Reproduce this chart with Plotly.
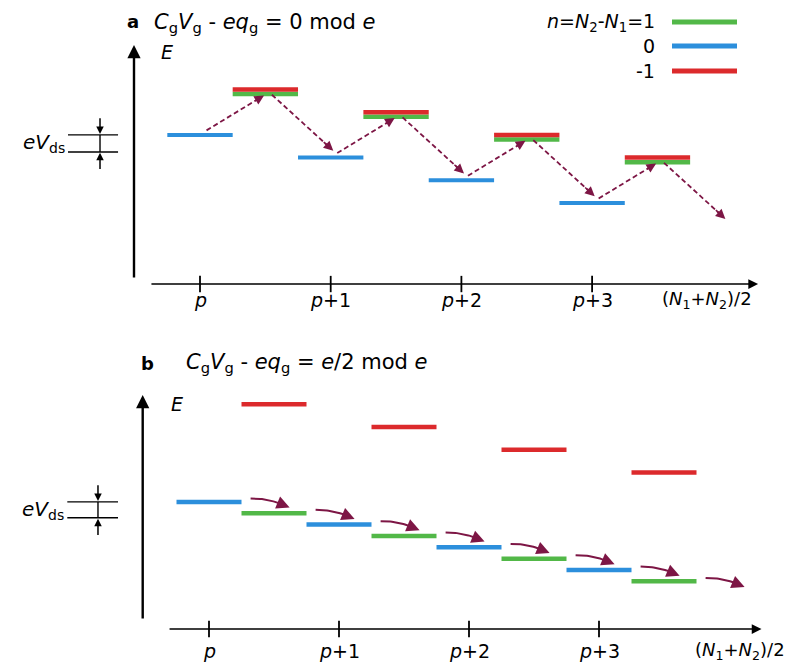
import numpy as np
import plotly.graph_objects as go

# ---------------- data ----------------
tick_pos = [0, 1, 2, 3]
tick_text = ["<i>p</i>", "<i>p</i>+1", "<i>p</i>+2", "<i>p</i>+3"]
axis_label = "(<i>N</i><sub>1</sub>+<i>N</i><sub>2</sub>)/2"

# panel a  (level centre in (N1+N2)/2 units, energy in arbitrary units)
a_blue_N = [0, 1, 2, 3]
a_blue_E = [3.0, 2.0, 1.0, 0.0]
a_red_N = [0.5, 1.5, 2.5, 3.5]
a_red_E = [5.0, 4.0, 3.0, 2.0]
a_green_N = [0.5, 1.5, 2.5, 3.5]
a_green_E = [4.8, 3.8, 2.8, 1.8]
a_path_N = [0, 0.5, 1, 1.5, 2, 2.5, 3, 3.5, 4]
a_path_E = [3.0, 4.8, 2.0, 3.8, 1.0, 2.8, 0.0, 1.8, -1.0]

# panel b
b_blue_N = [0, 1, 2, 3]
b_blue_E = [3.0, 2.0, 1.0, 0.0]
b_green_N = [0.5, 1.5, 2.5, 3.5]
b_green_E = [2.5, 1.5, 0.5, -0.5]
b_red_N = [0.5, 1.5, 2.5, 3.5]
b_red_E = [7.3, 6.3, 5.3, 4.3]
b_path_N = [0, 0.5, 1, 1.5, 2, 2.5, 3, 3.5, 4]
b_path_E = [3.0, 2.5, 2.0, 1.5, 1.0, 0.5, 0.0, -0.5, -1.0]

evds_top = 3.0
evds_gap_a = 0.75
evds_gap_b = 0.70

legend_labels = ["<i>n</i>=<i>N</i><sub>2</sub>-<i>N</i><sub>1</sub>=1", "0", "-1"]

# ---------------- style / layout ----------------
W, H = 808, 664          # window
OFF = 8                  # page body margin
FW, FH = W - OFF, H - OFF
GREEN, BLUE, RED = "#52b848", "#2c8fdc", "#dc2a2c"
ARROW = "#7d1645"
FONT = "DejaVu Sans, Liberation Sans, Arial"
UE = 22.7                      # px per energy unit
UXA, X0A, Y0A = 130.7, 200, 203
UXB, X0B, Y0B = 130.0, 209, 570
DA = (8, 330)
DB = (334, 664)


def px(x):
    return (x - OFF) / FW


def py(y):
    return 1 - (y - OFF) / FH


fig = go.Figure()


def levels(Ns, Es, color, xa, ya, width=4.5, hw=0.25):
    xs, ys = [], []
    for n, e in zip(Ns, Es):
        xs += [n - hw, n + hw, None]
        ys += [e, e, None]
    fig.add_trace(go.Scatter(x=xs, y=ys, mode="lines", xaxis=xa, yaxis=ya,
                             line=dict(color=color, width=width),
                             hoverinfo="skip", showlegend=False))


def arrow(x, y, ax, ay, xr, yr, color, width, head=2, size=1.0):
    fig.add_annotation(x=x, y=y, ax=ax, ay=ay, xref=xr, yref=yr, axref=xr, ayref=yr,
                       text="", showarrow=True, arrowhead=head, arrowsize=size,
                       arrowwidth=width, arrowcolor=color, standoff=0, startstandoff=0)


def label(x, y, text, xr, yr, size=18, xanchor="center", yanchor="middle"):
    fig.add_annotation(x=x, y=y, xref=xr, yref=yr, text=text, showarrow=False,
                       xanchor=xanchor, yanchor=yanchor,
                       font=dict(size=size, family=FONT, color="black"))


# ---- panel a levels ----
levels(a_green_N, a_green_E, GREEN, "x", "y")
levels(a_red_N, a_red_E, RED, "x", "y")
levels(a_blue_N, a_blue_E, BLUE, "x", "y", width=4)

# dashed hops
dx, dy = [], []
for i in range(len(a_path_N) - 1):
    n0, e0, n1, e1 = a_path_N[i], a_path_E[i], a_path_N[i + 1], a_path_E[i + 1]
    if e1 > e0:
        s = (n0 + 0.05, e0 + 0.2)
        t = (n1 - 0.01, e1 - 0.06)
    else:
        s = (n0 + 0.05, e0 - 0.03)
        t = (n1 + 0.02, e1 + 0.3)
    dx += [s[0], s[0] + 0.9 * (t[0] - s[0]), None]
    dy += [s[1], s[1] + 0.9 * (t[1] - s[1]), None]
    arrow(t[0], t[1], s[0] + 0.82 * (t[0] - s[0]), s[1] + 0.82 * (t[1] - s[1]),
          "x", "y", ARROW, 1.6, head=2, size=1.2)
fig.add_trace(go.Scatter(x=dx, y=dy, mode="lines", xaxis="x", yaxis="y",
                         line=dict(color=ARROW, width=1.8, dash="5px,3px"),
                         hoverinfo="skip", showlegend=False))

# ---- panel b levels ----
levels(b_red_N, b_red_E, RED, "x2", "y2")
levels(b_green_N, b_green_E, GREEN, "x2", "y2")
levels(b_blue_N, b_blue_E, BLUE, "x2", "y2")

cx, cy = [], []
tt = np.linspace(0, 1, 25)
for i in range(len(b_path_N) - 1):
    n0, e0, n1, e1 = b_path_N[i], b_path_E[i], b_path_N[i + 1], b_path_E[i + 1]
    s = np.array([n0 + 0.32, e0 + 0.15])
    t = np.array([n1 + 0.12, e1 + 0.25])
    c = np.array([s[0] + 0.5 * (t[0] - s[0]), s[1] + 0.02])
    pts = ((1 - tt) ** 2)[:, None] * s + (2 * (1 - tt) * tt)[:, None] * c + (tt ** 2)[:, None] * t
    keep = pts[tt <= 0.85]
    cx += list(keep[:, 0]) + [None]
    cy += list(keep[:, 1]) + [None]
    p7 = pts[np.argmin(abs(tt - 0.7))]
    arrow(t[0], t[1], p7[0], p7[1], "x2", "y2", ARROW, 2.0, head=2, size=1.3)
fig.add_trace(go.Scatter(x=cx, y=cy, mode="lines", xaxis="x2", yaxis="y2",
                         line=dict(color=ARROW, width=2.0),
                         hoverinfo="skip", showlegend=False))

# ---- axes drawn as arrows ----
# panel a
ha = -3.57
arrow(4.27, ha, -0.383, ha, "x", "y", "black", 1.5, head=2, size=1.3)
arrow(-0.505, 6.96, -0.505, -3.35, "x", "y", "black", 2.4, head=2, size=1.1)
for tp, tx in zip(tick_pos, tick_text):
    fig.add_shape(type="line", x0=tp, x1=tp, y0=ha - 0.36, y1=ha + 0.36, xref="x", yref="y",
                  line=dict(color="black", width=1.8))
    label(tp, ha - 0.72, tx, "x", "y", size=19)
label(3.52, ha - 0.72, axis_label, "x", "y", size=18, xanchor="left")
label(-0.25, 6.65, "<i>E</i>", "x", "y", size=19)

# panel b
hb = -2.6
arrow(4.25, hb, -0.315, hb, "x2", "y2", "black", 1.5, head=2, size=1.3)
arrow(-0.51, 7.71, -0.51, -2.2, "x2", "y2", "black", 2.4, head=2, size=1.1)
for tp, tx in zip(tick_pos, tick_text):
    fig.add_shape(type="line", x0=tp, x1=tp, y0=hb - 0.36, y1=hb + 0.36, xref="x2", yref="y2",
                  line=dict(color="black", width=1.8))
    label(tp, hb - 0.95, tx, "x2", "y2", size=19)
label(3.72, hb - 0.95, axis_label, "x2", "y2", size=18, xanchor="left")
label(-0.25, 7.3, "<i>E</i>", "x2", "y2", size=19)

# ---- eV_ds markers ----
for xr, yr, gap, nl0, nl1, nar, lab in [("x", "y", evds_gap_a, -1.01, -0.627, -0.765, -1.02),
                                        ("x2", "y2", evds_gap_b, -1.09, -0.70, -0.854, -1.10)]:
    top, bot = evds_top, evds_top - gap
    for e in (top, bot):
        fig.add_shape(type="line", x0=nl0, x1=nl1, y0=e, y1=e, xref=xr, yref=yr,
                      line=dict(color="black", width=1.4))
    fig.add_shape(type="line", x0=nar, x1=nar, y0=bot, y1=top, xref=xr, yref=yr,
                  line=dict(color="black", width=1.4))
    arrow(nar, top + 0.04, nar, top + 0.8, xr, yr, "black", 1.5, head=2, size=1.0)
    arrow(nar, bot - 0.04, nar, bot - 0.82, xr, yr, "black", 1.5, head=2, size=1.0)
    label(lab, (top + bot) / 2, "<i>eV</i><sub>ds</sub>", xr, yr, size=20, xanchor="right")

# ---- titles ----
label(px(133), py(9), "<b>a</b>", "paper", "paper", size=18, yanchor="top")
label(px(152), py(8), "<i>C</i><sub>g</sub><i>V</i><sub>g</sub> - <i>eq</i><sub>g</sub> = 0 mod <i>e</i>",
      "paper", "paper", size=21, xanchor="left", yanchor="top")
label(px(147), py(363), "<b>b</b>", "paper", "paper", size=18)
label(px(184), py(363), "<i>C</i><sub>g</sub><i>V</i><sub>g</sub> - <i>eq</i><sub>g</sub> = <i>e</i>/2 mod <i>e</i>",
      "paper", "paper", size=21, xanchor="left")

# ---- legend (manual) ----
for lab, col, yy in zip(legend_labels, [GREEN, BLUE, RED], [22, 46, 71]):
    fig.add_shape(type="line", x0=px(672), x1=px(737), y0=py(yy), y1=py(yy),
                  xref="paper", yref="paper", line=dict(color=col, width=5))
    label(px(657), py(yy), lab, "paper", "paper", size=19, xanchor="right")

hidden = dict(visible=False, showgrid=False, zeroline=False, fixedrange=True)
fig.update_layout(
    width=FW, height=FH, margin=dict(l=0, r=0, t=0, b=0),
    plot_bgcolor="white", paper_bgcolor="white",
    font=dict(family=FONT, color="black"),
    showlegend=False,
    xaxis=dict(domain=[0, 1], range=[(OFF - X0A) / UXA, (W - X0A) / UXA], anchor="y", **hidden),
    yaxis=dict(domain=[py(DA[1]), py(DA[0])], range=[(Y0A - DA[1]) / UE, (Y0A - DA[0]) / UE],
               anchor="x", **hidden),
    xaxis2=dict(domain=[0, 1], range=[(OFF - X0B) / UXB, (W - X0B) / UXB], anchor="y2", **hidden),
    yaxis2=dict(domain=[py(DB[1]), py(DB[0])], range=[(Y0B - DB[1]) / UE, (Y0B - DB[0]) / UE],
                anchor="x2", **hidden),
)

fig.write_html("out.html")
